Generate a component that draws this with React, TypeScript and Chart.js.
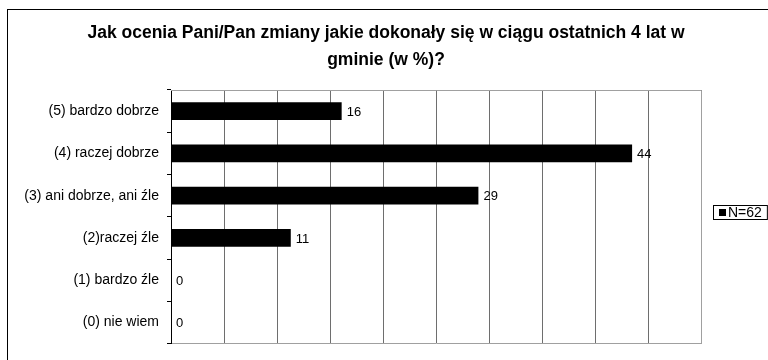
import React, { useEffect, useRef } from "react";
import { Chart, registerables } from "chart.js";

Chart.register(...registerables);

const categories = [
  "(5) bardzo dobrze",
  "(4) raczej dobrze",
  "(3) ani dobrze, ani źle",
  "(2)raczej źle",
  "(1) bardzo źle",
  "(0) nie wiem",
];
const values = [16.1, 43.5, 29.0, 11.3, 0, 0];
const valueLabels = ["16", "44", "29", "11", "0", "0"];
const seriesLabel = "N=62";
const titleLines = [
  "Jak ocenia Pani/Pan zmiany jakie dokonały się w ciągu ostatnich 4 lat w",
  "gminie (w %)?",
];
const xMin = 0;
const xMax = 50;
const xStep = 5;

const FONT = "'Liberation Sans', Arial, sans-serif";

const framePlugin = {
  id: "frame",
  beforeDraw(chart: any) {
    const ctx = chart.ctx;
    ctx.save();
    ctx.fillStyle = "#ffffff";
    ctx.fillRect(0, 0, chart.width, chart.height);
    ctx.strokeStyle = "#000000";
    ctx.lineWidth = 1;
    ctx.strokeRect(7.5, 9.5, chart.width + 20, chart.height + 20);
    ctx.restore();
  },
};

const titlePlugin = {
  id: "customTitle",
  afterDraw(chart: any) {
    const ctx = chart.ctx;
    ctx.save();
    ctx.fillStyle = "#000";
    ctx.font = `bold 17.5px ${FONT}`;
    ctx.textAlign = "center";
    ctx.textBaseline = "alphabetic";
    const cx = chart.width / 2 + 2;
    titleLines.forEach((line, i) => {
      ctx.fillText(line, cx, 38 + i * 27);
    });
    ctx.restore();
  },
};

const plotBorderPlugin = {
  id: "plotBorder",
  afterDatasetsDraw(chart: any) {
    const { ctx, chartArea } = chart;
    ctx.save();
    ctx.strokeStyle = "#a0a0a0";
    ctx.lineWidth = 1;
    ctx.beginPath();
    ctx.moveTo(chartArea.left, Math.floor(chartArea.top) + 0.5);
    ctx.lineTo(Math.floor(chartArea.right) + 0.5, Math.floor(chartArea.top) + 0.5);
    ctx.lineTo(Math.floor(chartArea.right) + 0.5, chartArea.bottom);
    ctx.stroke();
    ctx.restore();
  },
};

const valueLabelPlugin = {
  id: "valueLabels",
  afterDatasetsDraw(chart: any) {
    const ctx = chart.ctx;
    const meta = chart.getDatasetMeta(0);
    ctx.save();
    ctx.fillStyle = "#000";
    ctx.font = `13px ${FONT}`;
    ctx.textAlign = "left";
    ctx.textBaseline = "middle";
    meta.data.forEach((bar: any, i: number) => {
      ctx.fillText(valueLabels[i], bar.x + 5, bar.y + 1);
    });
    ctx.restore();
  },
};

const legendPlugin = {
  id: "customLegend",
  afterDraw(chart: any) {
    const ctx = chart.ctx;
    const area = chart.chartArea;
    const label = chart.data.datasets[0].label;
    ctx.save();
    ctx.font = `14px ${FONT}`;
    const tw = ctx.measureText(label).width;
    const x = 713;
    const h = 14;
    const y = Math.round((area.top + area.bottom) / 2) - 12;
    const w = tw + 20;
    ctx.fillStyle = "#fff";
    ctx.fillRect(x, y, w, h);
    ctx.strokeStyle = "#000";
    ctx.lineWidth = 1;
    ctx.strokeRect(x + 0.5, y + 0.5, w, h);
    ctx.fillStyle = "#000";
    ctx.fillRect(x + 6, y + 4, 7, 7);
    ctx.textAlign = "left";
    ctx.textBaseline = "middle";
    ctx.fillText(label, x + 15, y + h / 2 + 1);
    ctx.restore();
  },
};

export default function App() {
  const ref = useRef<HTMLCanvasElement | null>(null);

  useEffect(() => {
    if (!ref.current) return;
    const chart = new Chart(ref.current, {
      type: "bar",
      data: {
        labels: categories,
        datasets: [
          {
            label: seriesLabel,
            data: values,
            backgroundColor: "#000000",
            borderWidth: 0,
            categoryPercentage: 1,
            barPercentage: 0.42,
          },
        ],
      },
      options: {
        indexAxis: "y",
        responsive: false,
        animation: false,
        devicePixelRatio: 1,
        layout: { padding: { left: 0, right: 67, top: 90, bottom: 3 } },
        plugins: {
          legend: { display: false },
          title: { display: false },
          tooltip: { enabled: false },
        },
        scales: {
          x: {
            type: "linear",
            min: xMin,
            max: xMax,
            ticks: { display: false, stepSize: xStep },
            grid: { color: "#6e6e6e", lineWidth: 1, drawTicks: false },
            border: { display: true, color: "#a0a0a0" },
          },
          y: {
            type: "category",
            offset: true,
            ticks: {
              color: "#000",
              font: { family: FONT, size: 14 },
              padding: 8,
            },
            grid: {
              offset: true,
              drawOnChartArea: false,
              drawTicks: true,
              tickLength: 4,
              color: "#000",
            },
            border: { display: true, color: "#000" },
            afterFit(scale: any) {
              scale.width = 171;
            },
          },
        },
      },
      plugins: [framePlugin, plotBorderPlugin, valueLabelPlugin, titlePlugin, legendPlugin],
    } as any);
    return () => chart.destroy();
  }, []);

  return (
    <div style={{ position: "absolute", left: 0, top: 0, width: 768, height: 360 }}>
      <canvas ref={ref} width={768} height={360} style={{ display: "block" }} />
    </div>
  );
}
